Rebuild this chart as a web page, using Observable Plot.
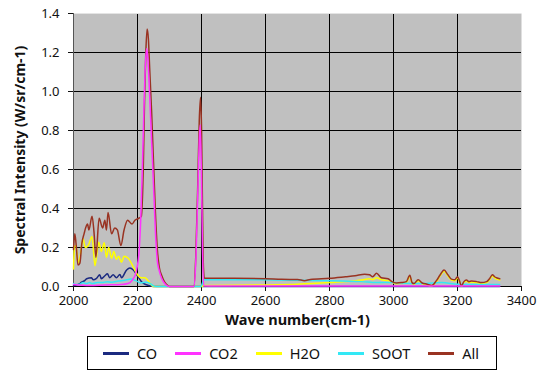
<!DOCTYPE html>
<html>
<head>
<meta charset="utf-8">
<script src="https://cdn.jsdelivr.net/npm/d3@7"></script>
<script src="https://cdn.jsdelivr.net/npm/@observablehq/plot@0.6"></script>
<style>
  html, body { margin: 0; padding: 0; background: #fff; }
  body { width: 542px; height: 371px; position: relative; overflow: hidden; font-family: "Noto Sans", sans-serif; }
  #legend { position: absolute; left: 87px; top: 336px; width: 410px; height: 34px; box-sizing: border-box;
    border: 1px solid #000; display: flex; align-items: center; padding-left: 15px; gap: 18px; font-size: 14.5px; color: #111; }
  .item { display: flex; align-items: center; }
  .swatch { width: 26px; height: 3px; margin-right: 8px; }
</style>
</head>
<body>
<div id="chart"></div>
<div id="legend"></div>
<script>
// ---- Data ----
const seriesNames = ["CO", "CO2", "H2O", "SOOT", "All"];
const seriesColors = ["#1b2a80", "#ff33ff", "#ffff00", "#33e8f5", "#993322"];
const drawOrder = ["CO", "H2O", "SOOT", "All", "CO2"];

const xTicks = [2000, 2200, 2400, 2600, 2800, 3000, 3200, 3400];
const yTicks = [0, 0.2, 0.4, 0.6, 0.8, 1.0, 1.2, 1.4];

const coWave  = [2000, 2010, 2020, 2025, 2035, 2041, 2056, 2061, 2072, 2082, 2087, 2098, 2106, 2113, 2124, 2134, 2145, 2150, 2166, 2176, 2187, 2200, 2210, 2220, 2235, 2250, 3332];
const coValue = [0.005, 0.008, 0.015, 0.022, 0.03, 0.04, 0.045, 0.035, 0.042, 0.06, 0.04, 0.055, 0.065, 0.045, 0.06, 0.045, 0.062, 0.045, 0.085, 0.095, 0.085, 0.055, 0.03, 0.015, 0.005, 0, 0];

const co2Wave  = [2000, 2050, 2100, 2150, 2170, 2185, 2195, 2200, 2205, 2210, 2215, 2220, 2225, 2229, 2233, 2238, 2244, 2250, 2256, 2262, 2268, 2276, 2285, 2295, 2300, 2376, 2382, 2388, 2393, 2396, 2400, 2403, 2407, 2450, 3332];
const co2Value = [0.01, 0.005, 0.008, 0.01, 0.015, 0.035, 0.07, 0.11, 0.18, 0.34, 0.6, 0.9, 1.15, 1.22, 1.15, 0.98, 0.75, 0.52, 0.28, 0.13, 0.08, 0.04, 0.015, 0.002, 0, 0, 0.12, 0.45, 0.75, 0.83, 0.55, 0.2, 0.004, 0.003, 0.003];

const h2oWave  = [2000, 2003, 2008, 2014, 2020, 2030, 2037, 2046, 2058, 2067, 2079, 2087, 2096, 2103, 2110, 2119, 2126, 2134, 2141, 2150, 2158, 2171, 2187, 2200, 2210, 2223, 2233, 2249, 2400, 2408, 2600, 2700, 2800, 2850, 2900, 2925, 2935, 2947, 2962, 2983, 2995, 3009, 3025, 3040, 3051, 3058, 3064, 3077, 3090, 3105, 3119, 3134, 3146, 3158, 3170, 3181, 3192, 3200, 3206, 3212, 3220, 3228, 3236, 3244, 3260, 3275, 3291, 3300, 3309, 3316, 3322, 3332];
const h2oValue = [0.09, 0.2, 0.21, 0.12, 0.15, 0.245, 0.2, 0.21, 0.256, 0.107, 0.227, 0.18, 0.225, 0.15, 0.2, 0.145, 0.18, 0.14, 0.155, 0.125, 0.155, 0.145, 0.1, 0.06, 0.045, 0.045, 0.03, 0, 0, 0.005, 0.008, 0.012, 0.02, 0.025, 0.033, 0.04, 0.035, 0.045, 0.035, 0.03, 0.022, 0.014, 0.016, 0.02, 0.052, 0.016, 0.01, 0.03, 0.014, 0.008, 0.002, 0.025, 0.055, 0.078, 0.055, 0.033, 0.03, 0.044, 0.025, 0, 0.02, 0.028, 0.02, 0.023, 0.02, 0.015, 0.02, 0.034, 0.054, 0.044, 0.038, 0.033];

const sootWave  = [2000, 2010, 2020, 2030, 2040, 2050, 2060, 2075, 2090, 2105, 2120, 2140, 2160, 2180, 2195, 2210, 2225, 2240, 2250, 2260, 2398, 2408, 2500, 2600, 2700, 2800, 2900, 2950, 3000, 3050, 3100, 3150, 3200, 3250, 3332];
const sootValue = [0.015, 0.01, 0.012, 0.02, 0.015, 0.02, 0.015, 0.02, 0.02, 0.025, 0.022, 0.028, 0.032, 0.038, 0.03, 0.018, 0.022, 0.015, 0.003, 0, 0, 0.035, 0.035, 0.034, 0.032, 0.03, 0.025, 0.02, 0.02, 0.015, 0.015, 0.02, 0.012, 0.01, 0.01];

const allWave  = [2000, 2004, 2008, 2014, 2020, 2026, 2033, 2040, 2044, 2048, 2058, 2064, 2070, 2080, 2091, 2098, 2103, 2108, 2119, 2129, 2137, 2148, 2158, 2169, 2183, 2192, 2204, 2212, 2218, 2222, 2226, 2230, 2234, 2238, 2244, 2250, 2256, 2262, 2268, 2276, 2285, 2295, 2300, 2376, 2382, 2388, 2393, 2397, 2400, 2403, 2406, 2409, 2500, 2600, 2650, 2700, 2722, 2740, 2800, 2850, 2880, 2910, 2925, 2935, 2947, 2962, 2983, 2995, 3009, 3025, 3040, 3051, 3058, 3064, 3077, 3090, 3105, 3119, 3134, 3146, 3158, 3170, 3181, 3192, 3200, 3206, 3212, 3220, 3228, 3236, 3244, 3260, 3275, 3291, 3300, 3309, 3316, 3322, 3332];
const allValue = [0.19, 0.27, 0.22, 0.11, 0.12, 0.22, 0.27, 0.31, 0.32, 0.29, 0.36, 0.28, 0.15, 0.35, 0.30, 0.34, 0.29, 0.38, 0.27, 0.30, 0.29, 0.21, 0.29, 0.34, 0.32, 0.34, 0.35, 0.36, 0.6, 0.95, 1.2, 1.32, 1.27, 1.12, 0.9, 0.64, 0.38, 0.19, 0.1, 0.055, 0.022, 0.004, 0, 0, 0.15, 0.5, 0.85, 0.97, 0.82, 0.42, 0.1, 0.042, 0.042, 0.04, 0.037, 0.036, 0.03, 0.036, 0.042, 0.05, 0.055, 0.063, 0.06, 0.05, 0.068, 0.045, 0.04, 0.025, 0.018, 0.02, 0.025, 0.058, 0.02, 0.015, 0.035, 0.018, 0.012, 0.005, 0.03, 0.06, 0.085, 0.06, 0.038, 0.035, 0.05, 0.03, 0.003, 0.025, 0.033, 0.025, 0.028, 0.025, 0.02, 0.025, 0.04, 0.06, 0.05, 0.045, 0.04];

// ---- Build table ----
const waves = [coWave, co2Wave, h2oWave, sootWave, allWave];
const vals = [coValue, co2Value, h2oValue, sootValue, allValue];
const rows = [];
drawOrder.forEach(name => {
  const i = seriesNames.indexOf(name);
  waves[i].forEach((w, j) => rows.push({series: name, wave: w, value: vals[i][j]}));
});

const chart = Plot.plot({
  width: 542,
  height: 334,
  marginLeft: 73,
  marginRight: 21,
  marginTop: 13,
  marginBottom: 48,
  style: {fontFamily: "Noto Sans, sans-serif", fontSize: "13px", background: "white", color: "#111"},
  x: {domain: [2000, 3400]},
  y: {domain: [0, 1.4]},
  color: {domain: seriesNames, range: seriesColors},
  marks: [
    Plot.frame({fill: "#c0c0c0", stroke: "none"}),
    Plot.ruleY(yTicks.filter(v => v > 0 && v < 1.4), {stroke: "#000", strokeWidth: 1}),
    Plot.ruleX(xTicks.filter(v => v > 2000 && v < 3400), {stroke: "#000", strokeWidth: 1}),
    Plot.ruleY([1.4], {stroke: "#e4e4e4"}),
    Plot.ruleX([2000], {stroke: "#555"}),
    Plot.ruleY([0], {stroke: "#000"}),
    Plot.axisY({ticks: yTicks, tickFormat: d3.format(".1f"), tickSize: 5, tickPadding: 9, fontSize: 13, label: null}),
    Plot.axisX({ticks: xTicks, tickFormat: d => String(d), tickSize: 5, tickPadding: 4, fontSize: 13, label: null}),
    Plot.line(rows, {x: "wave", y: "value", z: "series", stroke: "series", strokeWidth: 1.5, curve: "monotone-x"}),
    Plot.text(["Spectral Intensity (W/sr/cm-1)"], {frameAnchor: "left", textAnchor: "middle", dx: -53, rotate: -90, fontWeight: "bold", fontSize: 14, fill: "#111"}),
    Plot.text(["Wave number(cm-1)"], {frameAnchor: "bottom", textAnchor: "middle", dy: 38, fontWeight: "bold", fontSize: 14.5, fill: "#111"})
  ]
});
document.getElementById("chart").appendChild(chart);

const legend = document.getElementById("legend");
seriesNames.forEach((name, i) => {
  const item = document.createElement("div");
  item.className = "item";
  const sw = document.createElement("div");
  sw.className = "swatch";
  sw.style.background = seriesColors[i];
  const t = document.createElement("span");
  t.textContent = name;
  item.appendChild(sw);
  item.appendChild(t);
  legend.appendChild(item);
});
</script>
</body>
</html>
